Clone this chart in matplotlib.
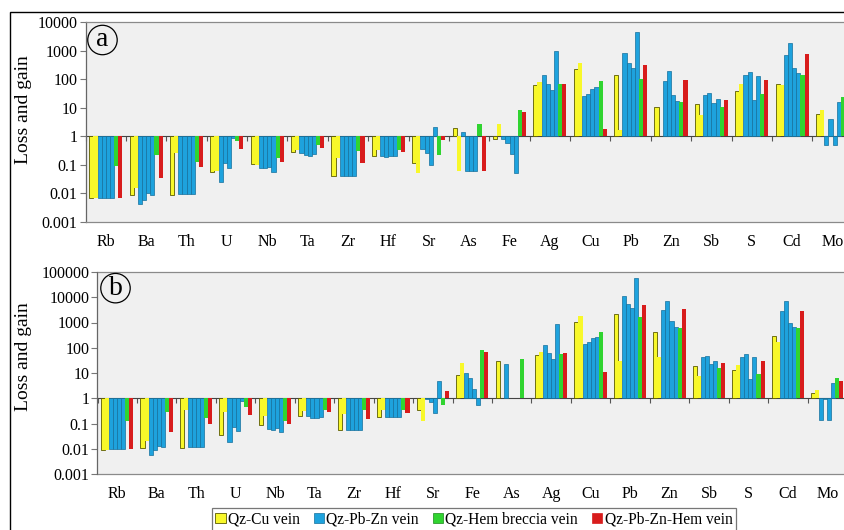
import numpy as np
import matplotlib
matplotlib.use('Agg')
import matplotlib.pyplot as plt
from matplotlib.patches import Patch, Rectangle
from matplotlib.ticker import FixedLocator, FuncFormatter, NullLocator

plt.rcParams['font.family'] = ['Liberation Serif', 'DejaVu Serif']

nan = np.nan

# --- panel (a) ---
elements_a = ['Rb', 'Ba', 'Th', 'U', 'Nb', 'Ta', 'Zr', 'Hf', 'Sr', 'As', 'Fe',
              'Ag', 'Cu', 'Pb', 'Zn', 'Sb', 'S', 'Cd', 'Mo']
a_cu1 = [0.007, 0.009, 0.009, 0.055, 0.11, 0.28, 0.04, 0.2, 0.12, 1.96, 0.8, 60, 219, 145, 11, 13.6, 40, 69, 6.1]
a_cu2 = [0.007, 0.016, 0.26, 0.06, 0.1, 0.34, 0.17, 0.34, 0.05, 0.062, 2.6, 81, 355, 1.7, 1.05, 5.5, 65, 60, 8.2]
a_pz1 = [0.007, 0.0044, 0.0095, 0.026, 0.08, 0.26, 0.04, 0.2, 0.36, 1.4, 0.8, 145, 25, 800, 85, 29, 145, 680, 0.51]
a_pz2 = [0.007, 0.006, 0.0095, 0.115, 0.075, 0.23, 0.04, 0.19, 0.26, 0.062, 0.6, 69, 31, 355, 190, 33, 180, 1780, 4.1]
a_pz3 = [0.007, 0.01, 0.0095, 0.08, 0.085, 0.21, 0.04, 0.2, 0.1, 0.062, 0.24, 43, 47, 250, 29, 15, 18.4, 250, 0.51]
a_pz4 = [0.007, 0.009, 0.0095, 0.9, 0.055, 0.24, 0.04, 0.2, 2.1, 0.062, 0.05, 960, 54, 4450, 17, 21, 134, 167, 15.6]
a_hem = [0.09, 0.23, 0.13, 0.67, 0.17, 0.48, 0.3, 0.34, 0.22, 2.6, 8.2, 65, 85, 105, 15.6, 11, 31, 145, 24]
a_pzh = [0.007, 0.035, 0.085, 0.36, 0.125, 0.39, 0.12, 0.28, 0.76, 0.062, 7, 70, 1.86, 310, 90, 18, 97, 735, 20]

# --- panel (b) ---
elements_b = ['Rb', 'Ba', 'Th', 'U', 'Nb', 'Ta', 'Zr', 'Hf', 'Sr', 'Fe', 'As',
              'Ag', 'Cu', 'Pb', 'Zn', 'Sb', 'S', 'Cd', 'Mo']
b_cu1 = [0.009, 0.011, 0.011, 0.035, 0.086, 0.2, 0.055, 0.18, 0.33, 8.1, 29, 50, 1060, 2240, 410, 19, 13, 295, 1.56]
b_cu2 = [0.009, 0.021, 0.33, 0.28, 0.19, 0.31, 0.245, 0.35, 0.127, 25, nan, 66, 1770, 29, 42, 7.6, 20, 165, 2.2]
b_pz1 = [0.0097, 0.0058, 0.0115, 0.018, 0.06, 0.19, 0.055, 0.18, 0.94, 9.7, 22, 123, 147, 11500, 3000, 42, 42, 2750, 0.135]
b_pz2 = [0.0097, 0.009, 0.0115, 0.07, 0.055, 0.17, 0.055, 0.18, 0.7, 6.6, nan, 62, 162, 5500, 6800, 46, 57, 6900, 0.95]
b_pz3 = [0.0097, 0.0134, 0.0115, 0.052, 0.064, 0.17, 0.055, 0.18, 0.26, 2.3, nan, 37, 238, 3700, 1130, 22, 5.7, 1000, 0.135]
b_pz4 = [0.0097, 0.012, 0.0115, 0.8, 0.045, 0.18, 0.055, 0.18, 4.9, 0.55, nan, 840, 275, 60000, 680, 29, 42, 640, 4.2]
b_hem = [0.127, 0.28, 0.17, 0.47, 0.127, 0.35, 0.33, 0.35, 0.52, 79, 36, 58, 430, 1660, 580, 16, 9.4, 580, 6.6]
b_pzh = [0.0097, 0.045, 0.1, 0.22, 0.1, 0.28, 0.156, 0.26, 1.87, 68, nan, 62, 11, 4800, 3300, 25, 31, 2840, 4.9]

YELLOW, BLUE, GREEN, RED = '#f8f82a', '#1ea2dd', '#30d430', '#d81c1c'
# one style per sample column: (face, edge, linewidth)
STYLES = [(YELLOW, '#5a5a00', 0.6), (YELLOW, YELLOW, 0.0),
          (BLUE, '#15709c', 0.5), (BLUE, '#15709c', 0.5),
          (BLUE, '#15709c', 0.5), (BLUE, '#15709c', 0.5),
          (GREEN, GREEN, 0.0), (RED, RED, 0.0)]

W, H = 845, 530
fig = plt.figure(figsize=(W / 100, H / 100), dpi=100, facecolor='white')


def panel(rect, labels, series, ymin_exp, ymax_exp, letter, letter_xy, ylab_xy):
    ax = fig.add_axes(rect)
    ax.set_facecolor('#f0f0f0')
    ax.set_yscale('log')
    n = len(labels)
    x = np.arange(n)
    bw = 0.1025
    for k, (vals, (fc, ec, lw)) in enumerate(zip(series, STYLES)):
        v = np.array(vals, dtype=float)
        ax.bar(x + (k - 3.5) * bw, v - 1, bottom=1, width=bw, color=fc,
               edgecolor=ec, linewidth=lw, zorder=2)
    ax.set_xlim(-0.5, n - 0.5)
    ax.set_ylim(10.0 ** ymin_exp, 10.0 ** ymax_exp)
    ax.yaxis.set_major_locator(FixedLocator([10.0 ** e for e in range(ymin_exp, ymax_exp + 1)]))
    ax.yaxis.set_minor_locator(NullLocator())
    ax.yaxis.set_major_formatter(FuncFormatter(lambda v, p: '%g' % v))
    ax.set_xticks(x)
    ax.set_xticklabels(labels)
    ax.tick_params(axis='x', length=0, pad=9, labelsize=11.5)
    ax.tick_params(axis='y', length=4, width=0.8, color='#777777', labelsize=11.5, pad=2)
    for s in ax.spines.values():
        s.set_color('#8a8a8a')
        s.set_linewidth(0.9)
    ax.spines['left'].set_color('#666666')
    # baseline at 1 with category boundary ticks
    frac = (0 - ymin_exp) / (ymax_exp - ymin_exp)
    sec = ax.secondary_xaxis(frac)
    sec.set_xticks(np.arange(n + 1) - 0.5)
    sec.set_xticklabels([])
    sec.tick_params(length=3.5, width=0.8, color='#555555')
    sec.spines['bottom'].set_color('#444444')
    sec.spines['bottom'].set_linewidth(0.8)
    ax.set_ylabel('Loss and gain', fontsize=14)
    ax.yaxis.set_label_coords(*ylab_xy)
    ax.text(letter_xy[0], letter_xy[1], letter, transform=ax.transAxes, fontsize=20,
            ha='center', va='center',
            bbox=dict(boxstyle='circle,pad=0.08', fc='none', ec='black', lw=0.9))
    return ax


def r(left, top, right, bottom):
    return [left / W, 1 - bottom / H, (right - left) / W, (bottom - top) / H]


panel(r(85.6, 22, 852.7, 222), elements_a,
      [a_cu1, a_cu2, a_pz1, a_pz2, a_pz3, a_pz4, a_hem, a_pzh],
      -3, 4, 'a', (0.022, 0.91), (-0.07, 0.56))
panel(r(97.5, 272, 847.0, 474), elements_b,
      [b_cu1, b_cu2, b_pz1, b_pz2, b_pz3, b_pz4, b_hem, b_pzh],
      -3, 5, 'b', (0.024, 0.92), (-0.087, 0.58))

# outer frame of the figure
fig.add_artist(Rectangle((10 / W, -0.1), 1.2, 1 - 12 / H + 0.1, transform=fig.transFigure,
                         fill=False, ec='black', lw=1.0))

handles = [Patch(fc=YELLOW, ec='#5a5a00', lw=0.6, label='Qz-Cu vein'),
           Patch(fc=BLUE, ec='#15709c', lw=0.5, label='Qz-Pb-Zn vein'),
           Patch(fc=GREEN, ec='#1a8a1a', lw=0.5, label='Qz-Hem breccia vein'),
           Patch(fc=RED, ec=RED, lw=0.5, label='Qz-Pb-Zn-Hem vein')]
leg = fig.legend(handles=handles, loc='center', bbox_to_anchor=(474 / W, 1 - 519.5 / H),
                 ncol=4, fontsize=11.2, frameon=True, fancybox=False, handlelength=0.65,
                 handleheight=0.65, handletextpad=0.15, columnspacing=0.9, borderpad=0.25,
                 borderaxespad=0)
leg.get_frame().set_edgecolor('#555555')
leg.get_frame().set_linewidth(0.9)

fig.savefig('out.png', dpi=100, facecolor='white')
